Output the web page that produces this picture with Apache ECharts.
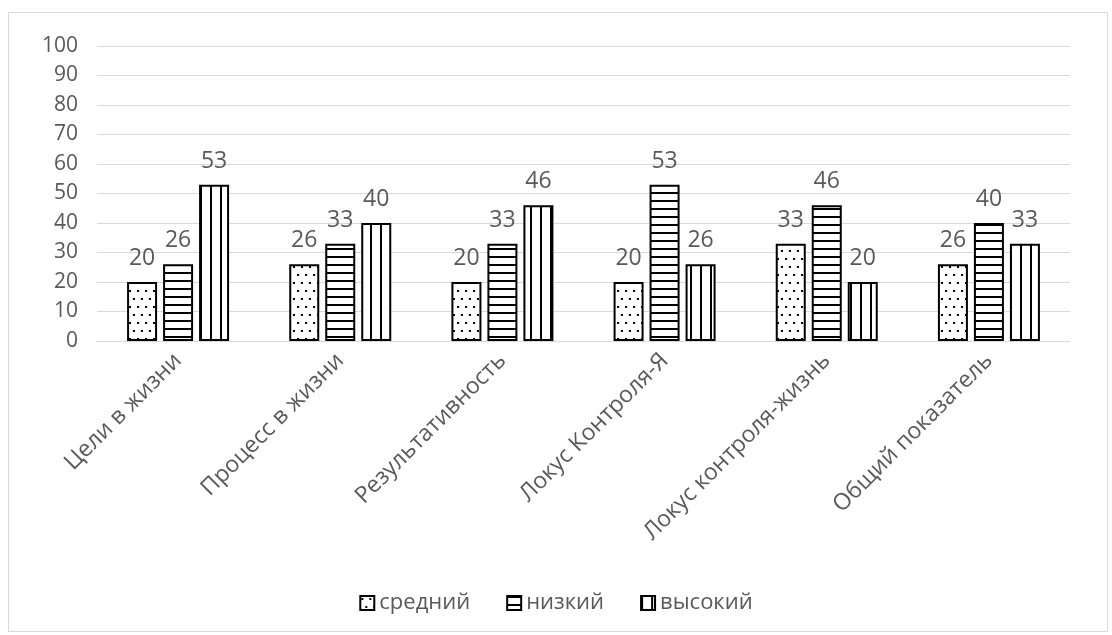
<!DOCTYPE html>
<html><head><meta charset="utf-8">
<script src="https://cdn.jsdelivr.net/npm/echarts@6/dist/echarts.min.js"></script>
<style>
html,body{margin:0;padding:0;background:#fff;}
#frame{position:absolute;left:8px;top:12px;width:1100px;height:620px;border:1px solid #d9d9d9;box-sizing:border-box;}
#c{position:absolute;left:0;top:0;width:1112px;height:635px;}
</style></head>
<body><div id="frame"></div><div id="c"></div>
<script>
const categories = ['Цели в жизни','Процесс в жизни','Результативность','Локус Контроля-Я','Локус контроля-жизнь','Общий показатель'];
const seriesNames = ['средний','низкий','высокий'];
const sredniy = [20,26,20,20,33,26];
const nizkiy = [26,33,33,53,46,40];
const vysokiy = [53,40,46,26,20,33];

function makePattern(type){
  const c = document.createElement('canvas');
  const ctx = c.getContext('2d');
  if(type==='dots'){
    c.width=8;c.height=16;
    ctx.fillStyle='#fff';ctx.fillRect(0,0,8,16);
    ctx.fillStyle='#000';
    ctx.fillRect(1,2,2,2);
    ctx.fillRect(5,10,2,2);
  } else if(type==='h'){
    c.width=8;c.height=8;
    ctx.fillStyle='#fff';ctx.fillRect(0,0,8,8);
    ctx.fillStyle='#000';
    ctx.fillRect(0,0,8,2);
  } else {
    c.width=10;c.height=8;
    ctx.fillStyle='#fff';ctx.fillRect(0,0,10,8);
    ctx.fillStyle='#000';
    ctx.fillRect(0,0,2,8);
  }
  return {image:c, repeat:'repeat'};
}
const patterns=[makePattern('dots'),makePattern('h'),makePattern('v')];
const dataSets=[sredniy,nizkiy,vysokiy];
const font='"Open Sans", sans-serif';
const chart = echarts.init(document.getElementById('c'));
chart.setOption({
  animation:false,
  textStyle:{fontFamily:font},
  grid:{left:97,right:42,top:46,bottom:294},
  legend:{bottom:16,left:'center',itemWidth:14,itemHeight:14,itemGap:36,
    textStyle:{color:'#595959',fontSize:22,fontFamily:font},
    data:seriesNames.map(n=>({name:n,icon:'rect'}))},
  xAxis:{type:'category',data:categories,
    axisLine:{lineStyle:{color:'#d9d9d9',width:1}},
    axisTick:{show:false},
    axisLabel:{rotate:45,color:'#595959',fontSize:23,fontFamily:font,interval:0,margin:16}},
  yAxis:{type:'value',min:0,max:100,interval:10,
    axisLine:{show:false},axisTick:{show:false},
    splitLine:{lineStyle:{color:'#d9d9d9',width:1}},
    axisLabel:{color:'#595959',fontSize:21,fontFamily:font,margin:19}},
  series:dataSets.map((d,i)=>({
    name:seriesNames[i],type:'bar',data:d,barWidth:30,barGap:'20%',
    itemStyle:{color:patterns[i],borderColor:'#000',borderWidth:2},
    label:{show:true,position:'top',distance:12,color:'#595959',fontSize:23,fontFamily:font}
  }))
});
</script></body></html>
